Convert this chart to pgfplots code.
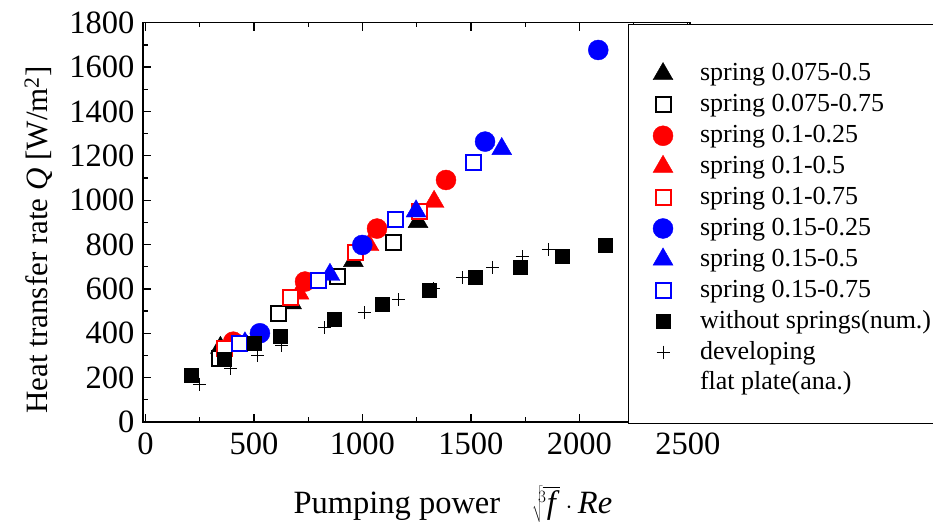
\documentclass[border=0pt]{standalone}
\usepackage{fontspec}
\setmainfont{Liberation Serif}
\usepackage{pgfplots}
\pgfplotsset{compat=1.18}

\begin{document}
\begin{tikzpicture}
\begin{axis}[scale only axis,width=547pt,height=399.3pt,
 xmin=-12,xmax=2510,ymin=0,ymax=1800,clip=false,
 xtick={0,500,...,2500},ytick={0,200,...,1800},minor x tick num=1,minor y tick num=1,
 tick align=inside,tick pos=both,major tick length=8pt,minor tick length=4.5pt,
 axis line style={line width=1.6pt},tick style={line width=1.3pt,black},
 /pgf/number format/assume math mode=true,/pgf/number format/1000 sep={},
 ticklabel style={font=\fontsize{32.5}{38}\selectfont},
 xticklabel style={yshift=-7pt},yticklabel style={xshift=-5pt},
 xlabel={Pumping power\hspace{0.7em} $\sqrt[3]{\mkern3mu\textit{f}\mkern3mu}\cdot\textit{Re}$},
 xlabel style={font=\fontsize{32.5}{38}\selectfont,at={(axis description cs:0.2687,0)},anchor=base west,yshift=-91pt},
 ylabel={Heat transfer rate \textit{Q} [W/m$^{\mathrm{2}}$]},
 ylabel style={font=\fontsize{31}{36}\selectfont,at={(axis description cs:-0.1737,0.0125)},anchor=base west},
 legend image code/.code={\path[draw=none,fill=none] (0pt,-10pt) rectangle (20pt,10pt);
   \draw[#1,only marks] plot coordinates {(10pt,0pt)};},
 legend style={at={(axis description cs:0.9324,0.9041)},anchor=north west,draw=none,fill=none,
   inner sep=0pt,outer sep=0pt,row sep=4.9pt,column sep=27pt,
   font=\fontsize{26}{30}\selectfont,nodes={inner sep=0pt,text height=20pt,text depth=6pt}},
 legend cell align=left]

% spring 0.075-0.5
\addplot[only marks,mark=triangle*,mark size=11.5pt,black] coordinates {(345,335)(673,536)(958,726)(1256,902)};
\addlegendentry{spring 0.075-0.5}
% spring 0.075-0.75
\addplot[only marks,mark=square*,mark size=7.5pt,mark options={draw=black,fill=white,line width=2pt}] coordinates {(343,287)(612,490)(884,655)(1142,808)};
\addlegendentry{spring 0.075-0.75}
% spring 0.1-0.25
\addplot[only marks,mark=*,mark size=10pt,red] coordinates {(404,362)(735,633)(1067,872)(1385,1091)};
\addlegendentry{spring 0.1-0.25}
% spring 0.1-0.5
\addplot[only marks,mark=triangle*,mark size=11.5pt,red] coordinates {(385,345)(707,580)(1030,798)(1330,993)};
\addlegendentry{spring 0.1-0.5}
% spring 0.1-0.75
\addplot[only marks,mark=square*,mark size=7.5pt,mark options={draw=red,fill=white,line width=2pt}] coordinates {(366,332)(666,560)(966,765)(1262,948)};
\addlegendentry{spring 0.1-0.75}
% spring 0.15-0.25
\addplot[only marks,mark=*,mark size=10pt,blue] coordinates {(527,400)(999,798)(1565,1264)(2087,1677)};
\addlegendentry{spring 0.15-0.25}
% spring 0.15-0.5
\addplot[only marks,mark=triangle*,mark size=11.5pt,blue] coordinates {(458,355)(850,664)(1247,950)(1642,1231)};
\addlegendentry{spring 0.15-0.5}
% spring 0.15-0.75
\addplot[only marks,mark=square*,mark size=7.5pt,mark options={draw=blue,fill=white,line width=2pt}] coordinates {(432,355)(799,636)(1154,911)(1511,1171)};
\addlegendentry{spring 0.15-0.75}
% without springs
\addplot[only marks,mark=square*,mark size=7pt,black] coordinates {(208,212)(361,283)(500,356)(620,385)(869,464)(1090,532)(1308,595)(1519,651)(1728,700)(1923,748)(2118,795)};
\addlegendentry{without springs(num.)}
% developing flat plate
\addplot[only marks,mark=+,mark size=6.5pt,mark options={line width=1pt},black] coordinates {(248,171)(392,242)(515,298)(627,343)(827,425)(1008,493)(1165,550)(1327,601)(1462,652)(1600,697)(1737,745)(1857,778)};
\addlegendentry{developing}
\addlegendimage{empty legend}
\addlegendentry{flat plate(ana.)}

\draw[line width=0.8pt,fill=white] ([xshift=485pt,yshift=-1pt]rel axis cs:0,0) rectangle ([xshift=800pt,yshift=398pt]rel axis cs:0,0);
\end{axis}
\pgfresetboundingbox
\path[use as bounding box] (-143pt,-107pt) rectangle (790pt,422pt);
\end{tikzpicture}
\end{document}
